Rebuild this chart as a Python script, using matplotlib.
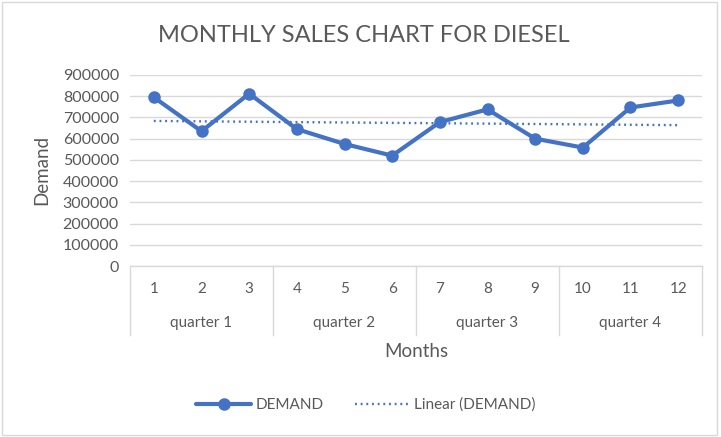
import numpy as np
import matplotlib.pyplot as plt
from matplotlib.patches import Rectangle

plt.rcParams['font.family'] = ['Lato', 'DejaVu Sans']

months = [1, 2, 3, 4, 5, 6, 7, 8, 9, 10, 11, 12]
quarters = ["quarter 1", "quarter 2", "quarter 3", "quarter 4"]
demand = [795000, 635000, 812000, 645000, 575000, 520000,
          678000, 738000, 600000, 558000, 747000, 780000]

blue = '#4472C4'
grey_txt = '#595959'
grid_c = '#D9D9D9'

fig = plt.figure(figsize=(7.21, 4.37), dpi=100)
ax = fig.add_axes([130 / 721, 1 - 266 / 437, 572 / 721, 191 / 437])

x = np.array(months)
ax.plot(x, demand, color=blue, lw=3.0, marker='o', ms=8, label='DEMAND',
        solid_capstyle='round', zorder=3)

# linear trendline like excel
k, b = np.polyfit(x, demand, 1)
ax.plot(x, k * x + b, color=blue, lw=1.7, ls=(0, (0.8, 1.6)),
        label='Linear (DEMAND)', zorder=2)

ax.set_xlim(0.5, 12.5)
ax.set_ylim(0, 900000)
ax.set_yticks(range(0, 900001, 100000))
ax.yaxis.grid(True, color=grid_c, lw=1.0)
ax.set_axisbelow(True)
ax.tick_params(axis='y', length=0, pad=8, labelsize=11.5, labelcolor=grey_txt)
ax.set_xticks([])
for s in ['top', 'right', 'left']:
    ax.spines[s].set_visible(False)
ax.spines['bottom'].set_color(grid_c)
ax.spines['bottom'].set_linewidth(1.0)

# two-level category axis
tr = ax.get_xaxis_transform()
for xb in [0.5, 3.5, 6.5, 9.5, 12.5]:
    ax.plot([xb, xb], [0, -0.361], color=grid_c, lw=1.0, transform=tr, clip_on=False)
for m in months:
    ax.text(m, -0.12, str(m), transform=tr, ha='center', va='center',
            fontsize=11, color=grey_txt)
for i, q in enumerate(quarters):
    ax.text(2 + 3 * i, -0.298, q, transform=tr, ha='center', va='center',
            fontsize=11, color=grey_txt)
ax.text(6.5, -0.45, 'Months', transform=tr, ha='center', va='center',
        fontsize=13.5, color=grey_txt)

fig.text(42 / 721, 1 - 170 / 437, 'Demand', rotation=90, ha='center', va='center',
         fontsize=13.5, color=grey_txt)
fig.text(364 / 721, 1 - 36 / 437, 'MONTHLY SALES CHART FOR DIESEL', ha='center',
         va='center', fontsize=17, color=grey_txt)

fig.legend(loc='center', bbox_to_anchor=(366 / 721, 1 - 405 / 437), ncol=2,
           frameon=False, fontsize=11, labelcolor=grey_txt, handlelength=3.6,
           columnspacing=2.0, handletextpad=0.3)

fig.patches.append(Rectangle((0.003, 0.004), 0.992, 0.992, transform=fig.transFigure,
                             fill=False, edgecolor=grid_c, lw=1.0))

fig.savefig('out.png', dpi=100)
